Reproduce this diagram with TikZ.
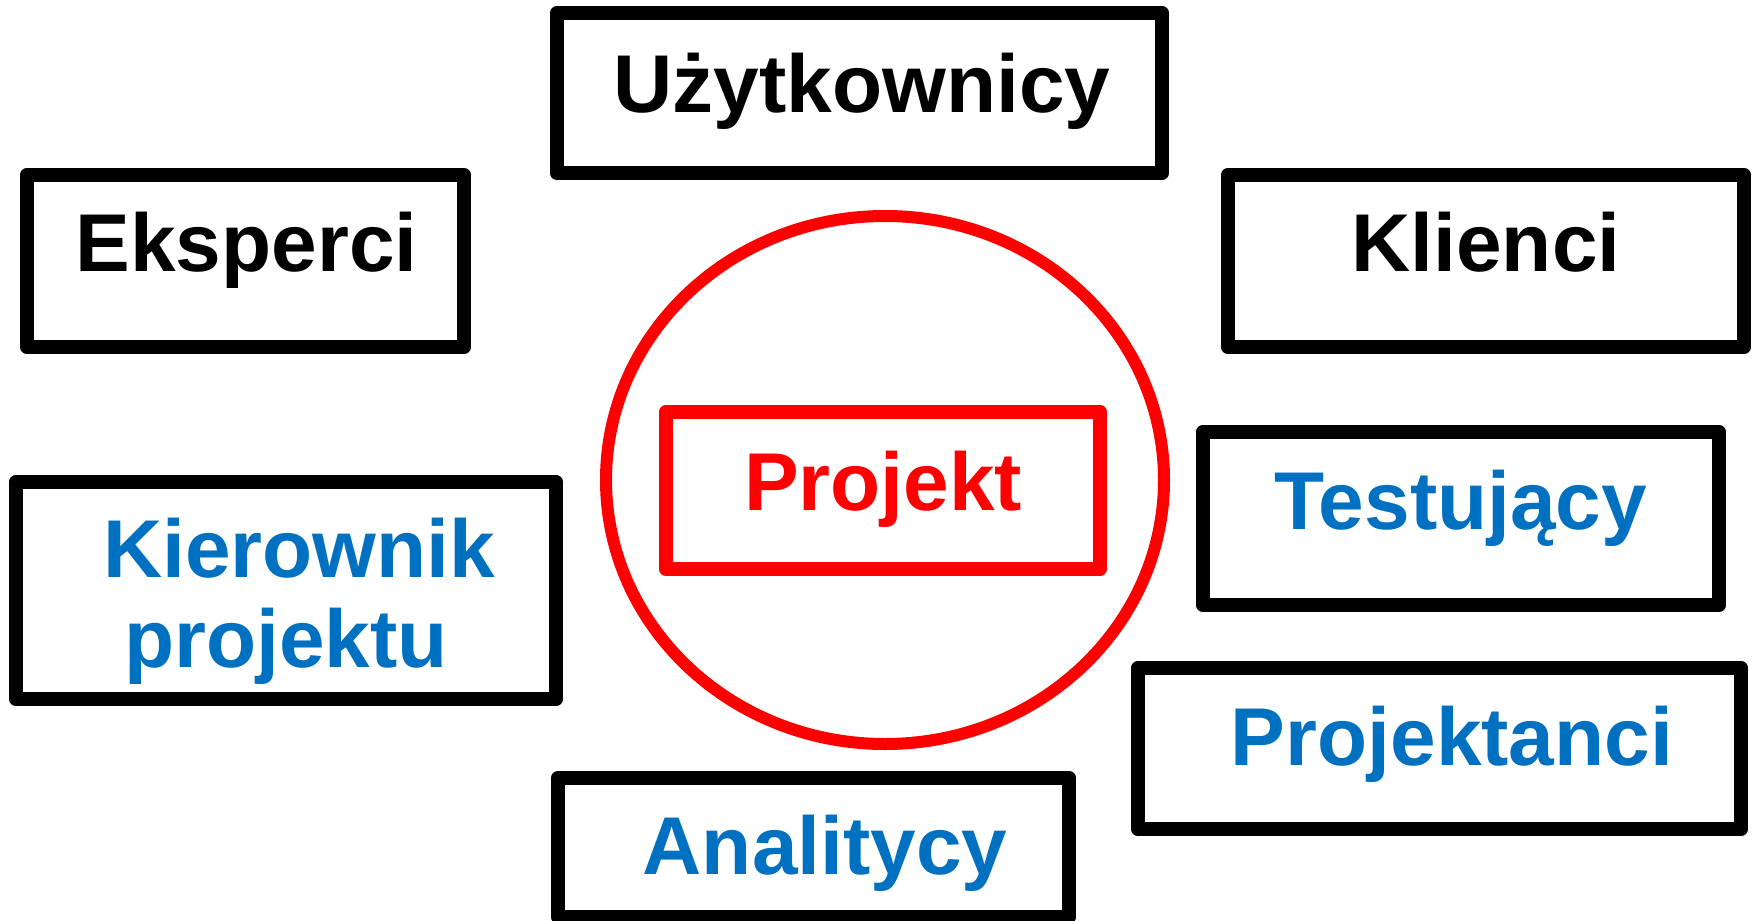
\documentclass[tikz,border=0pt]{standalone}
\usepackage{fontspec}
\setmainfont{Liberation Sans}
\usetikzlibrary{shapes.geometric}
\definecolor{rblue}{HTML}{0070C0}
\definecolor{rred}{HTML}{FF0000}
\begin{document}
\begin{tikzpicture}[x=1pt,y=-1pt,
  box/.style={draw=black,line width=14.5pt,line join=round,rectangle,inner sep=0pt,outer sep=0pt},
  redbox/.style={box,draw=rred},
  ring/.style={draw=rred,line width=12pt,ellipse,inner sep=0pt},
  lbl/.style={anchor=base,inner sep=0pt,font=\fontsize{82}{98}\selectfont\bfseries},
  blk/.style={lbl,text=black},
  blu/.style={lbl,text=rblue},
  red/.style={lbl,text=rred}]
\useasboundingbox (0,0) rectangle (1757,921);
\fill[white] (0,0) rectangle (1757,921);
% ring
\node[ring,minimum width=558pt,minimum height=528pt] (ring) at (885,480) {};
% boxes
\node[box,minimum width=605pt,minimum height=160pt] (uzyt) at (859.5,93) {};
\node[box,minimum width=437pt,minimum height=172pt] (eksp) at (245.5,261) {};
\node[box,minimum width=516pt,minimum height=172pt] (klie) at (1486,261) {};
\node[box,minimum width=516pt,minimum height=173pt] (test) at (1461,518.5) {};
\node[box,minimum width=540pt,minimum height=217pt] (kier) at (286,590.5) {};
\node[box,minimum width=603pt,minimum height=161pt] (pants) at (1439.5,748.5) {};
\node[box,minimum width=511pt,minimum height=139pt] (anal) at (813.5,847.5) {};
\node[redbox,minimum width=434pt,minimum height=157pt] (proj) at (883,490.5) {};
% labels
\node[blk] (tuzyt) at (862,112) {Użytkownicy};
\node[blk] (teksp) at (246.5,271) {Eksperci};
\node[blk] (tklie) at (1486,271) {Klienci};
\node[blu] (ttest) at (1461,529) {Testujący};
\node[blu] (tkier1) at (299,577) {Kierownik};
\node[blu] (tkier2) at (286,667) {projektu};
\node[blu] (tpants) at (1452,765) {Projektanci};
\node[blu] (tanal) at (825,874) {Analitycy};
\node[red] (tproj) at (883,510) {Projekt};
\end{tikzpicture}
\end{document}
